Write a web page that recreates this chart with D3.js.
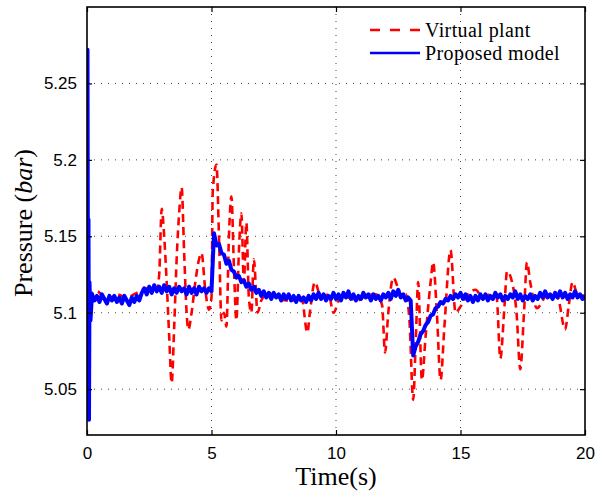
<!DOCTYPE html>
<html>
<head>
<meta charset="utf-8">
<script src="https://cdn.jsdelivr.net/npm/d3@7"></script>
<style>
  body { margin: 0; background: #fff; }
  .tick-label { font-family: "Liberation Sans", Arial, sans-serif; font-size: 17px; fill: #000; }
  .axis-title { font-family: "Liberation Serif", "Times New Roman", serif; font-size: 26px; fill: #000; }
  .legend { font-family: "Liberation Serif", "Times New Roman", serif; font-size: 20px; letter-spacing: 0.4px; fill: #000; }
</style>
</head>
<body>
<script>
// Axis ticks
const xTicks = [0, 5, 10, 15, 20];
const yTicks = [5.05, 5.1, 5.15, 5.2, 5.25];

// Series names
const seriesNames = ["Virtual plant", "Proposed model"];

// Virtual plant (red dashed)
const redT = [0, 0.4, 0.8, 1.2, 1.6, 2.0, 2.4, 2.8, 2.9, 3.0, 3.1, 3.2, 3.3, 3.4, 3.5, 3.6, 3.7, 3.8, 3.9, 4.0,
  4.07, 4.2, 4.35, 4.5, 4.6, 4.75, 4.9, 5.0, 5.05, 5.2, 5.3, 5.4, 5.5, 5.6, 5.7, 5.8, 5.9, 6.0, 6.1, 6.2,
  6.3, 6.4, 6.5, 6.6, 6.7, 6.85, 7.0, 7.3, 7.6, 8.0, 8.3, 8.6, 8.85, 8.95, 9.15, 9.4, 9.7, 9.9, 10.2, 10.5,
  10.85, 11.2, 11.6, 11.85, 11.97, 12.1, 12.3, 12.45, 12.6, 12.8, 12.95, 13.1, 13.2, 13.3, 13.45, 13.6, 13.8, 13.9, 14.05, 14.2,
  14.35, 14.6, 14.8, 15.0, 15.3, 15.6, 15.9, 16.2, 16.45, 16.6, 16.75, 16.87, 17.07, 17.25, 17.4, 17.55, 17.67, 17.8, 18.07, 18.5,
  18.9, 19.2, 19.35, 19.5, 19.7, 20.0];
const redP = [5.110, 5.114, 5.108, 5.112, 5.110, 5.113, 5.116, 5.115, 5.125, 5.168, 5.150, 5.120, 5.085, 5.054, 5.090, 5.135, 5.165, 5.182, 5.140, 5.100,
  5.089, 5.100, 5.120, 5.135, 5.139, 5.115, 5.102, 5.110, 5.179, 5.197, 5.150, 5.095, 5.100, 5.091, 5.150, 5.176, 5.130, 5.095, 5.140, 5.165,
  5.120, 5.159, 5.110, 5.100, 5.135, 5.100, 5.108, 5.113, 5.110, 5.108, 5.108, 5.112, 5.087, 5.100, 5.120, 5.110, 5.112, 5.100, 5.111, 5.110,
  5.108, 5.111, 5.112, 5.105, 5.074, 5.100, 5.123, 5.118, 5.110, 5.112, 5.095, 5.043, 5.080, 5.120, 5.056, 5.085, 5.120, 5.133, 5.100, 5.056,
  5.090, 5.141, 5.100, 5.104, 5.112, 5.115, 5.110, 5.112, 5.110, 5.070, 5.100, 5.127, 5.120, 5.100, 5.063, 5.100, 5.133, 5.120, 5.103, 5.112,
  5.110, 5.089, 5.105, 5.120, 5.112, 5.111];

// Proposed model (blue): start-up spike, then samples every 0.1 s from t = 0.2
const blueSpikeT = [0, 0.02, 0.04, 0.06, 0.08, 0.1, 0.14];
const blueSpikeP = [5.110, 5.272, 5.105, 5.161, 5.030, 5.120, 5.095];
const blueStart = 0.2, blueStep = 0.1;
const blueP = [
  5.112, 5.108, 5.111, 5.107, 5.112, 5.109, 5.106, 5.111,
  5.108, 5.111, 5.107, 5.110, 5.106, 5.111, 5.108, 5.105, 5.110, 5.107,
  5.111, 5.108, 5.113, 5.116, 5.112, 5.117, 5.113, 5.118, 5.114, 5.117,
  5.113, 5.118, 5.114, 5.117, 5.112, 5.116, 5.113, 5.117, 5.114, 5.116,
  5.112, 5.117, 5.113, 5.116, 5.112, 5.117, 5.114, 5.116, 5.113, 5.116,
  5.114, 5.152, 5.144, 5.145, 5.139, 5.138, 5.132, 5.134, 5.128, 5.127,
  5.123, 5.124, 5.120, 5.121, 5.117, 5.119, 5.115, 5.117, 5.113, 5.115,
  5.111, 5.114, 5.110, 5.113, 5.109, 5.113, 5.110, 5.112, 5.108, 5.112,
  5.109, 5.112, 5.108, 5.111, 5.107, 5.111, 5.108, 5.110, 5.107, 5.111,
  5.108, 5.112, 5.109, 5.113, 5.109, 5.112, 5.108, 5.111, 5.109, 5.113,
  5.109, 5.112, 5.108, 5.113, 5.110, 5.114, 5.109, 5.112, 5.108, 5.111,
  5.109, 5.113, 5.110, 5.112, 5.108, 5.112, 5.109, 5.111, 5.108, 5.112,
  5.110, 5.113, 5.109, 5.114, 5.111, 5.115, 5.110, 5.112, 5.108, 5.110,
  5.108, 5.072, 5.078, 5.081, 5.086, 5.088, 5.092, 5.094, 5.098, 5.099,
  5.103, 5.104, 5.107, 5.106, 5.109, 5.108, 5.111, 5.109, 5.112, 5.110,
  5.113, 5.109, 5.112, 5.108, 5.111, 5.107, 5.111, 5.108, 5.112, 5.109,
  5.112, 5.108, 5.111, 5.109, 5.113, 5.110, 5.112, 5.108, 5.111, 5.109,
  5.112, 5.110, 5.114, 5.109, 5.112, 5.108, 5.111, 5.109, 5.112, 5.108,
  5.111, 5.109, 5.113, 5.110, 5.114, 5.110, 5.112, 5.109, 5.113, 5.110,
  5.114, 5.110, 5.113, 5.109, 5.112, 5.110, 5.114, 5.110, 5.112, 5.109,
  5.111
];

const width = 596, height = 491;
const margin = { top: 7, right: 11, bottom: 56, left: 87 };

const svg = d3.select("body").append("svg")
  .attr("width", width)
  .attr("height", height);

const xScale = d3.scaleLinear()
  .domain([0, 20])
  .range([margin.left, width - margin.right]);

const yScale = d3.scaleLinear()
  .domain([5.02, 5.30])
  .range([height - margin.bottom, margin.top]);

const x0 = margin.left, x1 = width - margin.right;
const y0 = height - margin.bottom, y1 = margin.top;

// Dotted grid
svg.append("g")
  .selectAll("line")
  .data(xTicks.slice(1, -1))
  .join("line")
  .attr("x1", d => xScale(d)).attr("x2", d => xScale(d))
  .attr("y1", y0).attr("y2", y1)
  .attr("stroke", "#444")
  .attr("stroke-width", 1)
  .attr("stroke-dasharray", "1,6");

svg.append("g")
  .selectAll("line")
  .data(yTicks)
  .join("line")
  .attr("x1", x0).attr("x2", x1)
  .attr("y1", d => yScale(d)).attr("y2", d => yScale(d))
  .attr("stroke", "#444")
  .attr("stroke-width", 1)
  .attr("stroke-dasharray", "1,6");

// Clip to plot area
svg.append("clipPath").attr("id", "plot-clip")
  .append("rect")
  .attr("x", x0).attr("y", y1)
  .attr("width", x1 - x0).attr("height", y0 - y1);

const redData = redT.map((t, i) => ({ t: t, p: redP[i] }));
const blueData = blueSpikeT.map((t, i) => ({ t: t, p: blueSpikeP[i] }))
  .concat(blueP.map((p, i) => ({ t: blueStart + i * blueStep, p: p })));

const redLine = d3.line()
  .x(d => xScale(d.t))
  .y(d => yScale(d.p))
  .curve(d3.curveMonotoneX);

const blueLine = d3.line()
  .x(d => xScale(d.t))
  .y(d => yScale(d.p));

const plot = svg.append("g").attr("clip-path", "url(#plot-clip)");

plot.append("path")
  .datum(redData)
  .attr("d", redLine)
  .attr("fill", "none")
  .attr("stroke", "#ff0000")
  .attr("stroke-width", 2.6)
  .attr("stroke-dasharray", "8,5");

plot.append("path")
  .datum(blueData)
  .attr("d", blueLine)
  .attr("fill", "none")
  .attr("stroke", "#0000ff")
  .attr("stroke-width", 4)
  .attr("stroke-linejoin", "round");

// Axes with inward ticks (box on)
const tickLen = 5;
svg.append("g")
  .attr("transform", `translate(0,${y0})`)
  .call(d3.axisBottom(xScale).tickValues(xTicks).tickSize(-tickLen).tickPadding(12).tickFormat(d3.format("d")))
  .call(g => g.select(".domain").remove())
  .call(g => g.selectAll("text").attr("class", "tick-label").attr("font-family", null).attr("font-size", null));

svg.append("g")
  .attr("transform", `translate(0,${y1})`)
  .call(d3.axisTop(xScale).tickValues(xTicks).tickSize(-tickLen).tickFormat(""))
  .call(g => g.select(".domain").remove());

svg.append("g")
  .attr("transform", `translate(${x0},0)`)
  .call(d3.axisLeft(yScale).tickValues(yTicks).tickSize(-tickLen).tickPadding(10).tickFormat(d => d3.format("")(+d.toFixed(2))))
  .call(g => g.select(".domain").remove())
  .call(g => g.selectAll("text").attr("class", "tick-label").attr("font-family", null).attr("font-size", null));

svg.append("g")
  .attr("transform", `translate(${x1},0)`)
  .call(d3.axisRight(yScale).tickValues(yTicks).tickSize(-tickLen).tickFormat(""))
  .call(g => g.select(".domain").remove());

svg.selectAll(".tick line").attr("stroke", "#000").attr("stroke-width", 1.2);

// Frame
svg.append("rect")
  .attr("x", x0).attr("y", y1)
  .attr("width", x1 - x0).attr("height", y0 - y1)
  .attr("fill", "none")
  .attr("stroke", "#000")
  .attr("stroke-width", 1.6);

// Axis titles
svg.append("text")
  .attr("class", "axis-title")
  .attr("x", (x0 + x1) / 2)
  .attr("y", 485)
  .attr("text-anchor", "middle")
  .text("Time(s)");

const yTitle = svg.append("text")
  .attr("class", "axis-title")
  .attr("transform", `translate(32,${(y0 + y1) / 2 + 2}) rotate(-90)`)
  .attr("text-anchor", "middle");
yTitle.append("tspan").text("Pressure (");
yTitle.append("tspan").attr("font-style", "italic").text("bar");
yTitle.append("tspan").text(")");

// Legend
const legend = svg.append("g").attr("transform", "translate(370,0)");
const legendStyles = [
  { color: "#ff0000", dash: "10,10", y: 30 },
  { color: "#0000ff", dash: null, y: 53 }
];
seriesNames.forEach((name, i) => {
  const s = legendStyles[i];
  legend.append("line")
    .attr("x1", 0).attr("x2", 50)
    .attr("y1", s.y).attr("y2", s.y)
    .attr("stroke", s.color)
    .attr("stroke-width", 2.6)
    .attr("stroke-dasharray", s.dash);
  legend.append("text")
    .attr("class", "legend")
    .attr("x", 55)
    .attr("y", s.y + 7)
    .text(name);
});
</script>
</body>
</html>
